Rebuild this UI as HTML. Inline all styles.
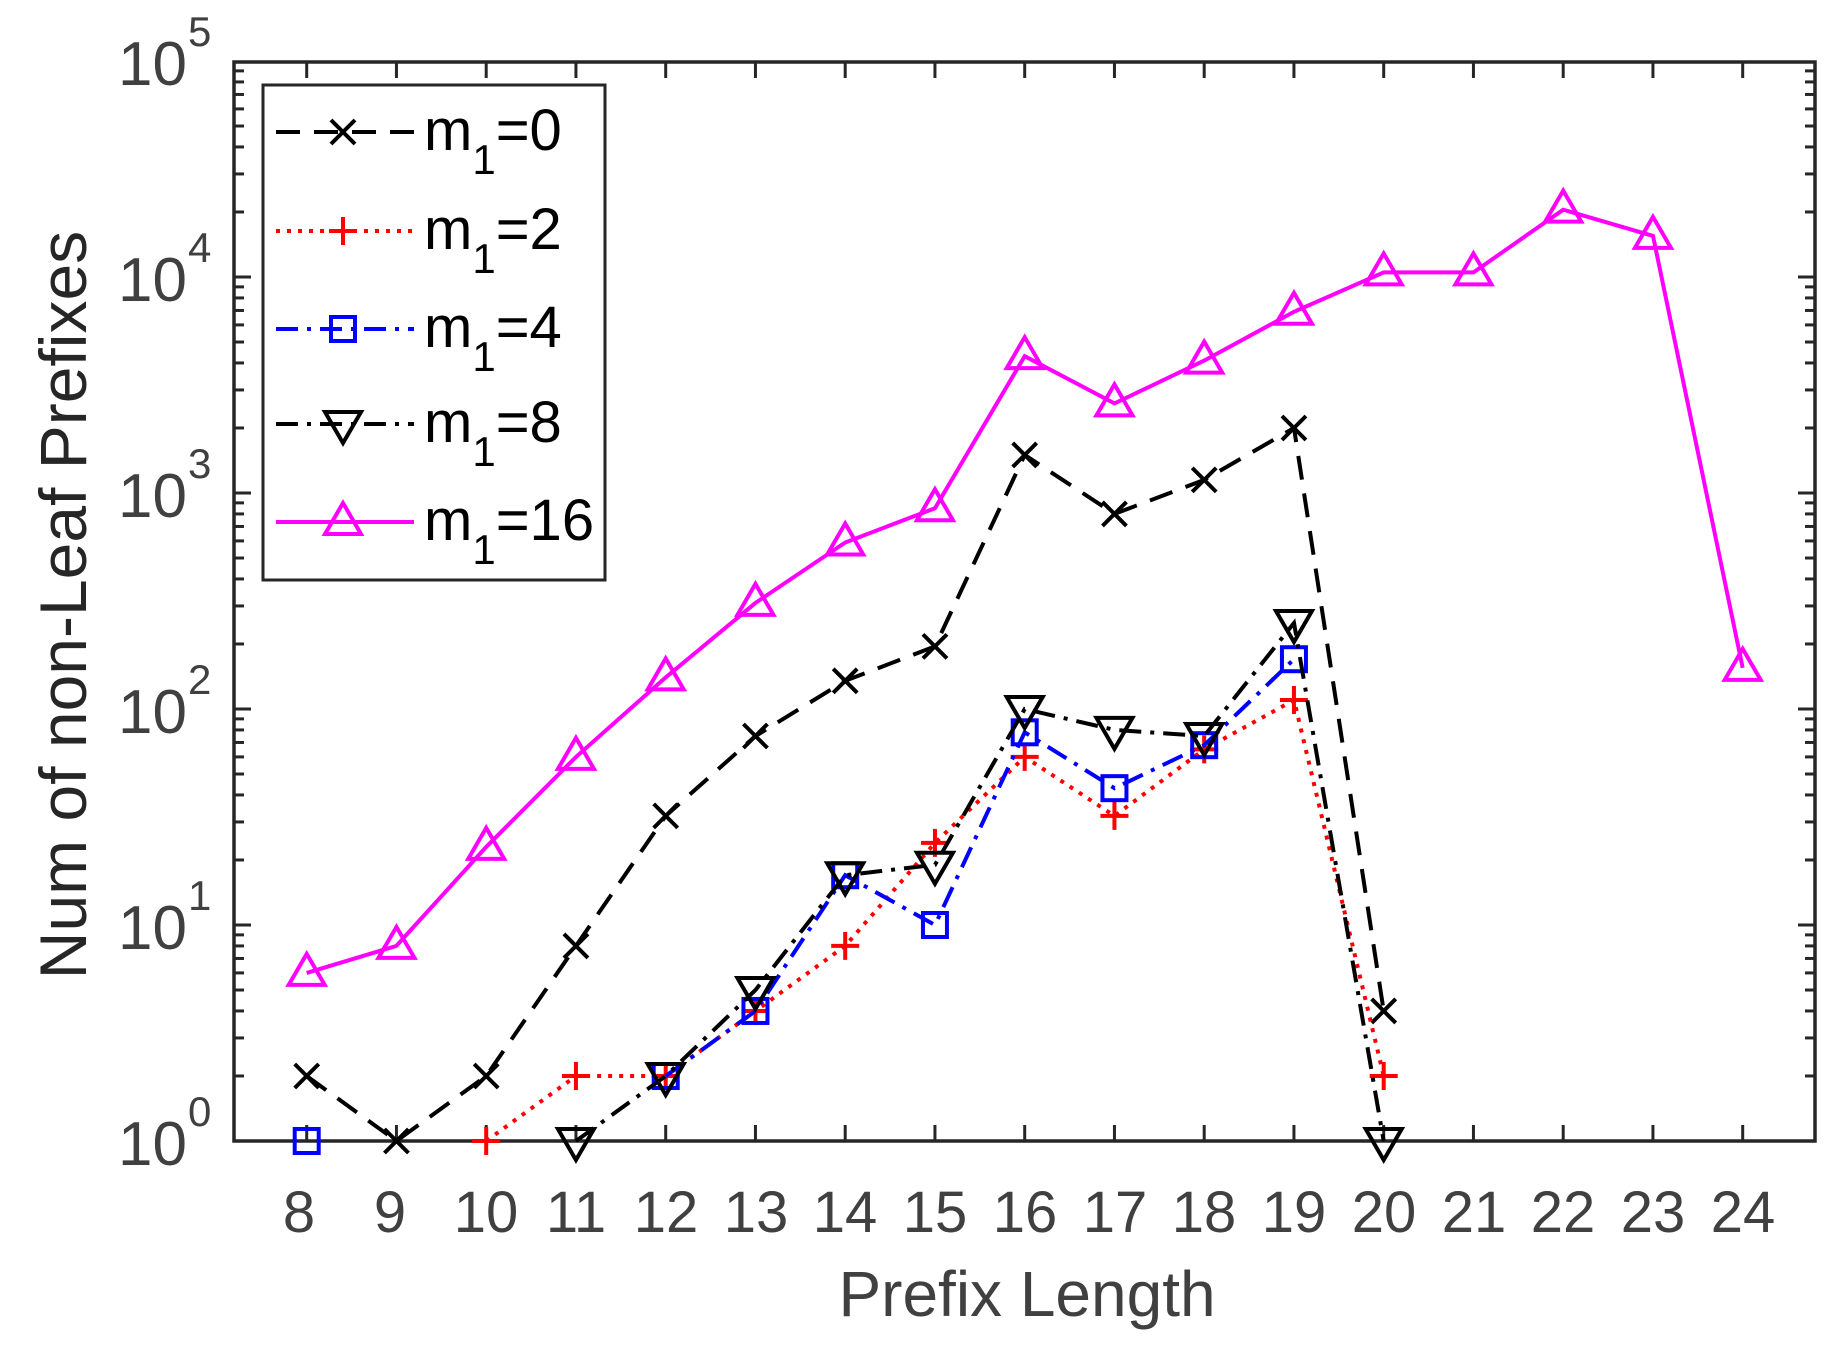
<!DOCTYPE html>
<html><head><meta charset="utf-8"><style>
html,body{margin:0;padding:0;background:#fff;}
svg{display:block;}
text{font-family:"Liberation Sans",Arial,sans-serif;}
</style></head><body>
<svg id="s" width="1846" height="1361" viewBox="0 0 1846 1361" xmlns="http://www.w3.org/2000/svg">
<rect x="0" y="0" width="1846" height="1361" fill="#fff"/>
<g id="ticks" stroke="#262626" stroke-width="3" fill="none"></g>
<rect x="234" y="62" width="1581" height="1079" fill="none" stroke="#262626" stroke-width="3.5"/>
<g id="data"></g>
<g fill="#404040" font-size="58" text-anchor="middle">
<text x="299" y="1232">8</text><text x="390" y="1232">9</text><text x="486" y="1232">10</text><text x="576" y="1232">11</text><text x="666" y="1232">12</text><text x="756" y="1232">13</text><text x="845" y="1232">14</text><text x="935" y="1232">15</text><text x="1025" y="1232">16</text><text x="1115" y="1232">17</text><text x="1204" y="1232">18</text><text x="1294" y="1232">19</text><text x="1384" y="1232">20</text><text x="1474" y="1232">21</text><text x="1563" y="1232">22</text><text x="1653" y="1232">23</text><text x="1743" y="1232">24</text>
</g>
<g fill="#404040" font-size="62">
<text x="187" y="1165" text-anchor="end">10</text><text x="188" y="1126" font-size="42">0</text>
<text x="187" y="949" text-anchor="end">10</text><text x="188" y="910" font-size="42">1</text>
<text x="187" y="733" text-anchor="end">10</text><text x="188" y="694" font-size="42">2</text>
<text x="187" y="517" text-anchor="end">10</text><text x="188" y="478" font-size="42">3</text>
<text x="187" y="301" text-anchor="end">10</text><text x="188" y="262" font-size="42">4</text>
<text x="187" y="85" text-anchor="end">10</text><text x="188" y="46" font-size="42">5</text>
</g>
<text x="1027" y="1316" fill="#404040" font-size="64" text-anchor="middle">Prefix Length</text>
<text transform="translate(86,605) rotate(-90)" fill="#262626" font-size="66" text-anchor="middle">Num of non-Leaf Prefixes</text>
<rect x="263" y="85" width="342" height="495" fill="#fff" stroke="#262626" stroke-width="3"/>
<g id="leg"></g>
<g fill="#000" font-size="58">
<text x="424" y="150">m<tspan font-size="42" dy="24">1</tspan><tspan dy="-24">=0</tspan></text>
<text x="424" y="249">m<tspan font-size="42" dy="24">1</tspan><tspan dy="-24">=2</tspan></text>
<text x="424" y="347">m<tspan font-size="42" dy="24">1</tspan><tspan dy="-24">=4</tspan></text>
<text x="424" y="442">m<tspan font-size="42" dy="24">1</tspan><tspan dy="-24">=8</tspan></text>
<text x="424" y="540">m<tspan font-size="42" dy="24">1</tspan><tspan dy="-24">=16</tspan></text>
</g>
</svg>
<script>
var NS="http://www.w3.org/2000/svg";
function el(p,t,a){var e=document.createElementNS(NS,t);for(var k in a)e.setAttribute(k,a[k]);p.appendChild(e);return e;}
var T=document.getElementById("ticks");
function X(x){return 306.7+(x-8)*89.75;}
function Y(v){return 1141-216*Math.log10(v);}
for(var x=8;x<=24;x++){var px=X(x);el(T,"line",{x1:px,y1:1141,x2:px,y2:1125});el(T,"line",{x1:px,y1:62,x2:px,y2:78});}
for(var d=0;d<5;d++){for(var m=1;m<10;m++){var py=Y(m*Math.pow(10,d));var L=m==1?17:10;el(T,"line",{x1:234,y1:py,x2:234+L,y2:py});el(T,"line",{x1:1815,y1:py,x2:1815-L,y2:py});}}
var D=document.getElementById("data"),G=document.getElementById("leg");
var S=[
{c:"#000",da:"24,14",mk:"x",d:[[8,2],[9,1],[10,2],[11,8],[12,32],[13,75],[14,135],[15,195],[16,1500],[17,800],[18,1150],[19,2000],[20,4]]},
{c:"#ff0000",da:"4,7",mk:"+",d:[[10,1],[11,2],[12,2],[13,4],[14,8],[15,24],[16,60],[17,32],[18,65],[19,110],[20,2]]},
{c:"#0000ff",da:"22,9,4,9",mk:"s",d:[[12,2],[13,4],[14,17],[15,10],[16,78],[17,43],[18,68],[19,170]],extra:[[8,1]]},
{c:"#000",da:"22,9,4,9",mk:"v",d:[[11,1],[12,2],[13,5],[14,17],[15,19],[16,100],[17,80],[18,75],[19,250],[20,1]]},
{c:"#ff00ff",da:"",mk:"^",d:[[8,6],[9,8],[10,23],[11,60],[12,140],[13,310],[14,590],[15,850],[16,4300],[17,2600],[18,4100],[19,6900],[20,10500],[21,10500],[22,20500],[23,15500],[24,155]]}];
function mark(p,t,x,y,c){var a={stroke:c,"stroke-width":4,fill:"none"};
if(t=="x"){el(p,"path",Object.assign({d:"M"+(x-12)+","+(y-12)+"L"+(x+12)+","+(y+12)+"M"+(x-12)+","+(y+12)+"L"+(x+12)+","+(y-12)},a));}
else if(t=="+"){el(p,"path",Object.assign({d:"M"+(x-14)+","+y+"L"+(x+14)+","+y+"M"+x+","+(y-14)+"L"+x+","+(y+14)},a));}
else if(t=="s"){el(p,"rect",Object.assign({x:x-12,y:y-12,width:24,height:24},a));}
else if(t=="v"){el(p,"path",Object.assign({d:"M"+(x-18)+","+(y-12)+"L"+(x+18)+","+(y-12)+"L"+x+","+(y+19)+"Z"},a));}
else {el(p,"path",Object.assign({d:"M"+(x-18)+","+(y+12)+"L"+(x+18)+","+(y+12)+"L"+x+","+(y-19)+"Z"},a));}}
var ly=[132,231,329,424,522];
S.forEach(function(s,i){
 var pts=s.d.map(function(p){return X(p[0]).toFixed(1)+","+Y(p[1]).toFixed(1);}).join(" ");
 var a={points:pts,fill:"none",stroke:s.c,"stroke-width":4};if(s.da)a["stroke-dasharray"]=s.da;
 el(D,"polyline",a);
 s.d.forEach(function(p){mark(D,s.mk,X(p[0]),Y(p[1]),s.c);});
 if(s.extra)s.extra.forEach(function(p){mark(D,s.mk,X(p[0]),Y(p[1]),s.c);});
 var b={x1:276,y1:ly[i],x2:414,y2:ly[i],stroke:s.c,"stroke-width":4};if(s.da)b["stroke-dasharray"]=s.da;
 el(G,"line",b);mark(G,s.mk,343,ly[i],s.c);
});
</script>
</body></html>
